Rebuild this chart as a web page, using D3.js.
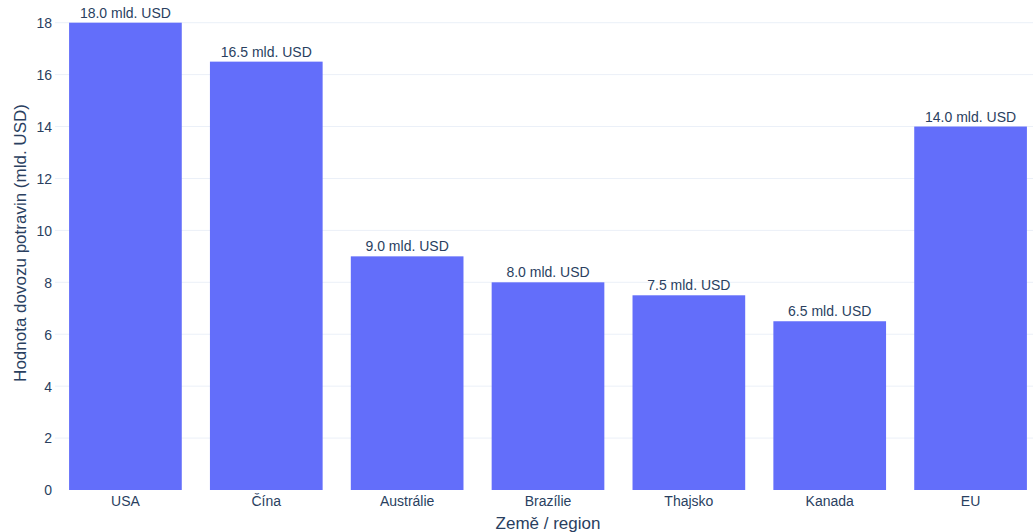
<!DOCTYPE html>
<html>
<head>
<meta charset="utf-8">
<script src="https://cdn.jsdelivr.net/npm/d3@7"></script>
<style>
  html, body { margin: 0; padding: 0; background: #fff; overflow: hidden; }
  text { font-family: "Liberation Sans", Arial, sans-serif; fill: #2a3f5f; }
</style>
</head>
<body>
<svg id="chart" width="1033" height="532"></svg>
<script>
const categories = ["USA", "Čína", "Austrálie", "Brazílie", "Thajsko", "Kanada", "EU"];
const values = [18.0, 16.5, 9.0, 8.0, 7.5, 6.5, 14.0];
const yTicks = [0, 2, 4, 6, 8, 10, 12, 14, 16, 18];
const xTitle = "Země / region";
const yTitle = "Hodnota dovozu potravin (mld. USD)";

(function () {
const svg = d3.select("#chart");
const pLeft = 55, pRight = 1041, pTop = 22.7, pBottom = 490;

const x = d3.scaleBand().domain(categories).range([pLeft, pRight]).paddingInner(0.2).paddingOuter(0.1);
const y = d3.scaleLinear().domain([0, 18]).range([pBottom, pTop]);

// gridlines
svg.append("g").selectAll("line").data(yTicks.filter(d => d !== 0)).join("line")
  .attr("x1", pLeft).attr("x2", pRight)
  .attr("y1", d => y(d)).attr("y2", d => y(d))
  .attr("stroke", "#ebf0f8").attr("stroke-width", 1);

// y axis labels
const yAxis = d3.axisLeft(y).tickValues(yTicks).tickSize(0).tickPadding(0).tickFormat(d3.format("d"));
const ga = svg.append("g").attr("transform", `translate(${pLeft - 3},0)`).call(yAxis);
ga.select(".domain").remove();
ga.selectAll("text").attr("font-size", 14).attr("fill", "#2a3f5f")
  .style("font-family", "'Liberation Sans', Arial, sans-serif").attr("dy", "0.35em");

// bars
svg.append("g").selectAll("rect").data(categories).join("rect")
  .attr("x", d => x(d)).attr("width", x.bandwidth())
  .attr("y", (d, i) => y(values[i])).attr("height", (d, i) => y(0) - y(values[i]))
  .attr("fill", "#636efa");

// value labels
svg.append("g").selectAll("text").data(categories).join("text")
  .attr("x", d => x(d) + x.bandwidth() / 2)
  .attr("y", (d, i) => y(values[i]) - 5)
  .attr("text-anchor", "middle").attr("font-size", 14)
  .text((d, i) => values[i].toFixed(1) + " mld. USD");

// x axis labels
const xAxis = d3.axisBottom(x).tickSize(0).tickPadding(0);
const gx = svg.append("g").attr("transform", `translate(0,${pBottom})`).call(xAxis);
gx.select(".domain").remove();
gx.selectAll("text").attr("font-size", 14).attr("fill", "#2a3f5f")
  .style("font-family", "'Liberation Sans', Arial, sans-serif").attr("dy", "0").attr("y", 16);

// axis titles
svg.append("text").attr("x", 548).attr("y", 529)
  .attr("text-anchor", "middle").attr("font-size", 17).text(xTitle);
svg.append("text").attr("transform", `translate(26,243) rotate(-90)`)
  .attr("text-anchor", "middle").attr("font-size", 17).text(yTitle);
})();
</script>
</body>
</html>
